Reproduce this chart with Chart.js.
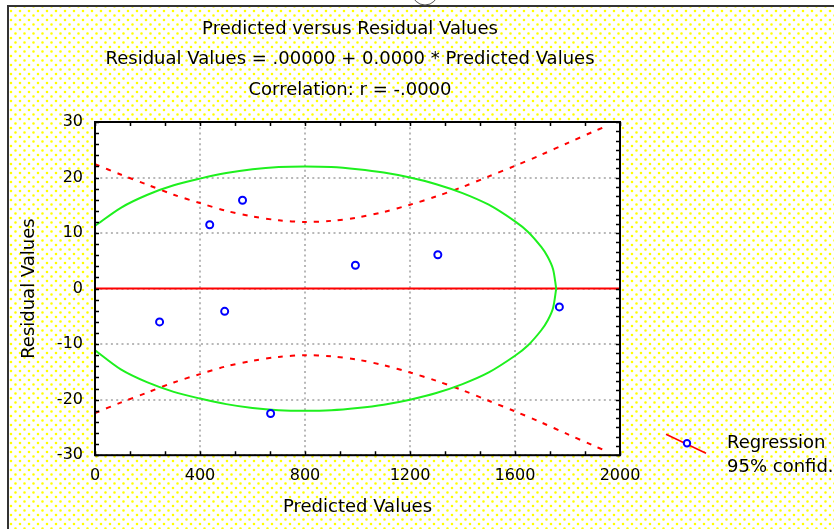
<!DOCTYPE html>
<html>
<head>
<meta charset="utf-8">
<script src="https://cdn.jsdelivr.net/npm/chart.js@4"></script>
<style>
html, body { margin: 0; padding: 0; background: #fff; }
#residChart { display: block; }
</style>
</head>
<body>
<canvas id="residChart" width="834" height="529"></canvas>
<script>
// observed cases
const predicted = [246, 437, 494, 562, 669, 992, 1306, 1769];
const residual = [-6.0, 11.5, -4.1, 15.9, -22.5, 4.2, 6.1, -3.3];

// regression line
const regX = [0, 2000];
const regY = [0, 0];

// 95% confidence bands
const bandX = [0, 100, 200, 300, 400, 500, 600, 700, 800, 900, 1000, 1100, 1200, 1300, 1400, 1500, 1600, 1700, 1800, 1900, 1940];
const bandUpper = [22.4, 20.5, 18.7, 16.9, 15.4, 14.0, 13.0, 12.3, 12.0, 12.2, 12.8, 13.8, 15.1, 16.6, 18.3, 20.2, 22.1, 24.1, 26.2, 28.3, 29.1];
const bandLower = [-22.4, -20.5, -18.7, -16.9, -15.4, -14.0, -13.0, -12.3, -12.0, -12.2, -12.8, -13.8, -15.1, -16.6, -18.3, -20.2, -22.1, -24.1, -26.2, -28.3, -29.1];

// confidence ellipse (left end clipped at x = 0)
const ellipseX = [0, 100, 200, 300, 400, 500, 600, 700, 800, 900, 1000, 1100, 1200, 1300, 1400, 1500, 1600, 1650, 1700, 1725, 1745, 1757];
const ellipseUpper = [11.3, 14.6, 16.9, 18.6, 19.8, 20.8, 21.5, 21.9, 22.0, 21.9, 21.5, 20.9, 20.0, 18.8, 17.2, 15.1, 12.1, 10.2, 7.5, 5.7, 3.5, 0];
const ellipseLower = [-11.1, -14.6, -16.9, -18.6, -19.8, -20.8, -21.5, -21.9, -22.0, -21.9, -21.5, -20.9, -20.0, -18.8, -17.2, -15.1, -12.1, -10.2, -7.5, -5.7, -3.5, 0];

const xTicks = [0, 400, 800, 1200, 1600, 2000];
const yTicks = [-30, -20, -10, 0, 10, 20, 30];

const titleLines = [
  "Predicted versus Residual Values",
  "Residual Values = .00000 + 0.0000 * Predicted Values",
  "Correlation: r = -.0000"
];

const toXY = (xs, ys) => xs.map((x, i) => ({ x: x, y: ys[i] }));
const ellipsePts = toXY(ellipseX, ellipseUpper).concat(toXY(ellipseX, ellipseLower).reverse());

Chart.defaults.font.family = "'DejaVu Sans'";
Chart.defaults.color = "#000";

const bgDots = {
  id: "bgDots",
  beforeDraw(chart) {
    const c = chart.ctx;
    const tile = document.createElement("canvas");
    tile.width = 9; tile.height = 9;
    const t = tile.getContext("2d");
    t.fillStyle = "#fff";
    t.fillRect(0, 0, 9, 9);
    t.fillStyle = "#ffff00";
    t.beginPath();
    t.arc(2, 2, 1.3, 0, 2 * Math.PI);
    t.arc(6.5, 6.5, 1.3, 0, 2 * Math.PI);
    t.fill();
    c.save();
    c.fillStyle = "#fff";
    c.fillRect(0, 0, chart.width, chart.height);
    c.fillStyle = c.createPattern(tile, "repeat");
    c.fillRect(9, 7, chart.width - 9, chart.height - 7);
    c.strokeStyle = "#333";
    c.lineWidth = 2;
    c.beginPath();
    c.moveTo(8, chart.height);
    c.lineTo(8, 6);
    c.lineTo(chart.width, 6);
    c.stroke();
    c.lineWidth = 1;
    c.strokeStyle = "#555";
    c.beginPath();
    c.arc(425, -8, 13, 0, Math.PI);
    c.stroke();
    const a = chart.chartArea;
    c.fillStyle = "#fff";
    c.fillRect(a.left, a.top, a.right - a.left, a.bottom - a.top);
    c.restore();
  }
};

const frameTicks = {
  id: "frameTicks",
  afterDraw(chart) {
    const c = chart.ctx, a = chart.chartArea;
    const sx = chart.scales.x, sy = chart.scales.y;
    c.save();
    c.strokeStyle = "#000";
    c.lineWidth = 1.5;
    c.beginPath();
    for (let v = 0; v <= 2000.01; v += 400 / 3) {
      const px = Math.round(sx.getPixelForValue(v)) + 0.5;
      c.moveTo(px, a.top); c.lineTo(px, a.top + 4);
      c.moveTo(px, a.bottom); c.lineTo(px, a.bottom - 4);
    }
    for (let v = -30; v <= 30.01; v += 2) {
      const py = Math.round(sy.getPixelForValue(v)) + 0.5;
      c.moveTo(a.left, py); c.lineTo(a.left + 4, py);
    }
    for (let v = -30; v <= 30.01; v += 10 / 6) {
      const py = Math.round(sy.getPixelForValue(v)) + 0.5;
      c.moveTo(a.right, py); c.lineTo(a.right - 4, py);
    }
    c.stroke();
    c.lineWidth = 2;
    c.strokeRect(a.left, a.top, a.right - a.left, a.bottom - a.top);

    // legend
    const lx = a.right + 46, ly = a.bottom - 21;
    c.strokeStyle = "#ff0000";
    c.lineWidth = 1.5;
    c.beginPath();
    c.moveTo(lx, ly);
    c.lineTo(lx + 40, ly + 19);
    c.stroke();
    c.strokeStyle = "#0000ff";
    c.fillStyle = "#fff";
    c.lineWidth = 2;
    c.beginPath();
    c.arc(lx + 21, ly + 9, 3.2, 0, 2 * Math.PI);
    c.fill();
    c.stroke();
    c.fillStyle = "#000";
    c.font = "18px 'DejaVu Sans'";
    c.textAlign = "left";
    c.textBaseline = "middle";
    c.fillText("Regression", lx + 61, ly + 9);
    c.fillText("95% confid.", lx + 61, ly + 33);
    c.restore();
  }
};

new Chart(document.getElementById("residChart"), {
  type: "scatter",
  data: {
    datasets: [{
      label: "Residuals",
      data: toXY(predicted, residual),
      pointRadius: 3.5,
      pointBorderWidth: 2,
      pointBorderColor: "#0000ff",
      pointBackgroundColor: "#fff",
      showLine: false
    }, {
      label: "Ellipse",
      data: ellipsePts,
      showLine: true,
      tension: 0.3,
      borderColor: "#1ef01e",
      borderWidth: 2,
      pointRadius: 0
    }, {
      label: "Regression",
      data: toXY(regX, regY),
      showLine: true,
      borderColor: "#ff0000",
      borderWidth: 2,
      pointRadius: 0
    }, {
      label: "Upper 95%",
      data: toXY(bandX, bandUpper),
      showLine: true,
      tension: 0.3,
      borderColor: "#ff0000",
      borderWidth: 2,
      borderDash: [5, 7],
      pointRadius: 0
    }, {
      label: "Lower 95%",
      data: toXY(bandX, bandLower),
      showLine: true,
      tension: 0.3,
      borderColor: "#ff0000",
      borderWidth: 2,
      borderDash: [5, 7],
      pointRadius: 0
    }]
  },
  options: {
    responsive: false,
    animation: false,
    devicePixelRatio: 1,
    layout: { padding: { left: 8, right: 142, top: 0, bottom: 11 } },
    plugins: {
      legend: { display: false },
      tooltip: { enabled: false },
      title: {
        display: true,
        text: titleLines,
        color: "#000",
        font: { size: 18, weight: "normal", lineHeight: 30.5 / 18 },
        padding: { top: 13.75, bottom: 16.75 }
      }
    },
    scales: {
      x: {
        type: "linear",
        min: 0,
        max: 2000,
        afterBuildTicks: s => { s.ticks = xTicks.map(v => ({ value: v })); },
        ticks: { padding: 11, font: { size: 16 }, color: "#000", callback: v => String(v) },
        grid: { color: "#b8b8b8", lineWidth: 2, drawTicks: false },
        border: { display: false, dash: [2, 3.3] },
        title: { display: true, text: "Predicted Values", font: { size: 18 }, color: "#000", padding: { top: 0, bottom: 0 } }
      },
      y: {
        type: "linear",
        min: -30,
        max: 30,
        afterBuildTicks: s => { s.ticks = yTicks.map(v => ({ value: v })); },
        afterFit: s => { s.width = 87; },
        ticks: { padding: 12, font: { size: 16 }, color: "#000", callback: v => String(v) },
        grid: { color: "#b8b8b8", lineWidth: 2, drawTicks: false },
        border: { display: false, dash: [2, 3.3] },
        title: { display: true, text: "Residual Values", font: { size: 18 }, color: "#000", padding: { top: 11, bottom: 0 } }
      },
      y2: {
        type: "linear",
        position: "right",
        display: true,
        afterFit: s => { s.width = 72; },
        ticks: { display: false },
        grid: { display: false },
        border: { display: false }
      }
    }
  },
  plugins: [bgDots, frameTicks]
});
</script>
</body>
</html>
